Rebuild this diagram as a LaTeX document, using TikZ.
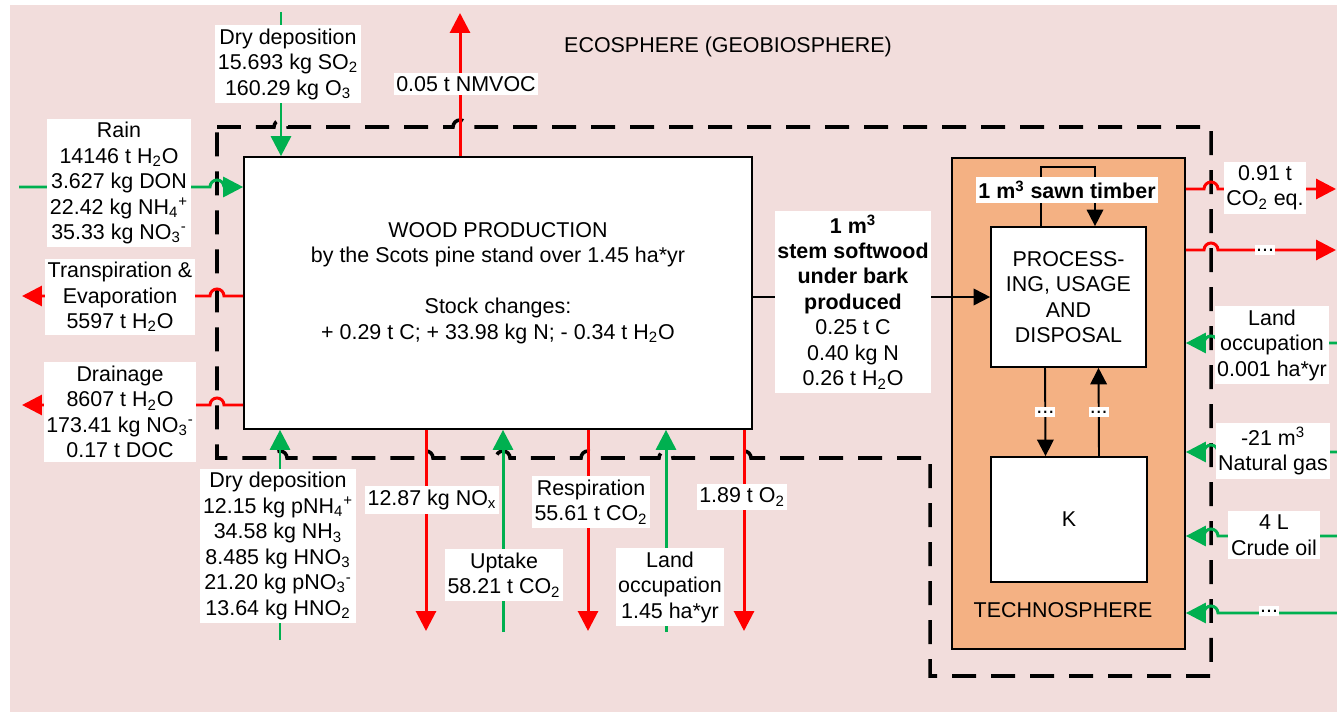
\documentclass[tikz,border=0pt]{standalone}
\usepackage{fontspec}
\setmainfont{Liberation Sans}
\usepackage{tikz}
\usetikzlibrary{arrows.meta,positioning,calc}
\definecolor{ecopink}     {RGB}{242, 221, 220}
\definecolor{technoorange}{RGB}{244, 177, 131}
\definecolor{flowred}     {RGB}{255,   0,   0}
\definecolor{flowgreen}   {RGB}{  0, 176,  80}
% sub- and superscript of an ion (NH4+, NO3-)
\newcommand{\ionss}[2]{\textsubscript{#1}\textsuperscript{#2}}

\begin{document}
\begin{tikzpicture}[x=0.02cm,y=-0.02cm,
  every node/.style={font=\fontsize{12.2}{14.5}\selectfont},
  boxw/.style={draw=black,line width=1pt,fill=white,inner sep=0pt,align=center},
  lbl/.style={fill=white,inner xsep=1.5pt,inner ysep=2pt,align=center},
  redflow/.style={draw=flowred,line width=1.7pt,-{Triangle[length=4mm,width=4mm]}},
  greenflow/.style={draw=flowgreen,line width=1.7pt,-{Triangle[length=4mm,width=4mm]}},
  blkarr/.style={draw=black,line width=1.1pt,-{Triangle[length=3.3mm,width=3.3mm]}},
  bound/.style={draw=black,line width=2pt,dash pattern=on 0.48cm off 0.3cm},
]
\useasboundingbox (0,0) rectangle (1337,712);
\fill[ecopink] (10,5) rectangle (1337,712);

%% ── System boundary (with hops over the vertical flows) ─────────────────
\draw[bound] (217,127) -- (274,127) arc[start angle=180,end angle=0,radius=0.14cm]
  -- (453,127) arc[start angle=180,end angle=0,radius=0.14cm]
  -- (1211,127) -- (1211,676) -- (930,676) -- (930,458)
  -- (751,458) arc[start angle=0,end angle=180,radius=0.14cm]
  -- (673,458) arc[start angle=0,end angle=180,radius=0.14cm]
  -- (595,458) arc[start angle=0,end angle=180,radius=0.14cm]
  -- (510,458) arc[start angle=0,end angle=180,radius=0.14cm]
  -- (433,458) arc[start angle=0,end angle=180,radius=0.14cm]
  -- (287,458) arc[start angle=0,end angle=180,radius=0.14cm]
  -- (217,458) -- cycle;

\node (ecolbl) at (728,47) {ECOSPHERE (GEOBIOSPHERE)};

%% ── Boxes ───────────────────────────────────────────────────────────────
\node[boxw,minimum width=10.16cm,minimum height=5.44cm] (wood) at (498,293) {};
\node[align=center] (woodtxt) at (498,283)
  {WOOD PRODUCTION\\by the Scots pine stand over 1.45 ha*yr\\[14.5pt]
   Stock changes:\\+ 0.29 t C; + 33.98 kg N; - 0.34 t H\textsubscript{2}O};
\node[draw=black,line width=1pt,fill=technoorange,minimum width=4.66cm,
      minimum height=9.82cm] (techno) at (1068.5,403.5) {};
\node[boxw,minimum width=3.1cm,minimum height=2.8cm] (proc) at (1068.5,297)
  {PROCESS-\\ING, USAGE\\AND\\DISPOSAL};
\node[boxw,minimum width=3.12cm,minimum height=2.5cm] (kbox) at (1069,519.5) {K};
\node (technolbl) at (1063,610) {TECHNOSPHERE};

%% ── Flows at the top ────────────────────────────────────────────────────
\coordinate (drytopT) at (281,12);
\coordinate (nmvocT) at (460,13);
\draw[greenflow] (drytopT) -- (wood.north -| drytopT);
\draw[redflow] (wood.north -| nmvocT) -- (nmvocT);

%% ── Flows on the left ───────────────────────────────────────────────────
\coordinate (rainL) at (19,187);
\coordinate (transpL) at (22,296);
\coordinate (drainL) at (22,405);
\draw[greenflow] (rainL) -- (210,187) arc[start angle=180,end angle=0,radius=0.14cm]
  -- (wood.west |- rainL);
\draw[redflow] (wood.west |- transpL) -- (224,296)
  arc[start angle=0,end angle=180,radius=0.14cm] -- (transpL);
\draw[redflow] (wood.west |- drainL) -- (224,405)
  arc[start angle=0,end angle=180,radius=0.14cm] -- (drainL);

%% ── Flows at the bottom ─────────────────────────────────────────────────
\coordinate (drybotB) at (280,640);
\coordinate (noxB) at (426,631);
\coordinate (uptakeB) at (503,632);
\coordinate (respB) at (588,631);
\coordinate (landB) at (666,632);
\coordinate (otwoB) at (744,631);
\draw[greenflow] (drybotB) -- (wood.south -| drybotB);
\draw[redflow] (wood.south -| noxB) -- (noxB);
\draw[greenflow] (uptakeB) -- (wood.south -| uptakeB);
\draw[redflow] (wood.south -| respB) -- (respB);
\draw[greenflow] (landB) -- (wood.south -| landB);
\draw[redflow] (wood.south -| otwoB) -- (otwoB);

%% ── Flows on the right (technosphere) ───────────────────────────────────
\coordinate (co2R) at (1336,189);
\coordinate (dotsR) at (1336,250);
\coordinate (landR) at (1337,343);
\coordinate (gasR) at (1337,452);
\coordinate (oilR) at (1337,536);
\coordinate (moreR) at (1337,613);
\draw[redflow] (techno.east |- co2R) -- (1204,189)
  arc[start angle=180,end angle=0,radius=0.14cm] -- (co2R);
\draw[redflow] (techno.east |- dotsR) -- (1204,250)
  arc[start angle=180,end angle=0,radius=0.14cm] -- (dotsR);
\draw[greenflow] (landR) -- (1218,343) arc[start angle=0,end angle=180,radius=0.14cm]
  -- (techno.east |- landR);
\draw[greenflow] (gasR) -- (1218,452) arc[start angle=0,end angle=180,radius=0.14cm]
  -- (techno.east |- gasR);
\draw[greenflow] (oilR) -- (1218,536) arc[start angle=0,end angle=180,radius=0.14cm]
  -- (techno.east |- oilR);
\draw[greenflow] (moreR) -- (1218,613) arc[start angle=0,end angle=180,radius=0.14cm]
  -- (techno.east |- moreR);

%% ── Product flow and technosphere links ─────────────────────────────────
\draw[blkarr] (proc.west -| wood.east) -- (proc.west);
\draw[blkarr] ([xshift=-0.55cm]proc.north) -- ++(0,-59) -| ([xshift=0.53cm]proc.north);
\draw[blkarr] ([xshift=-0.47cm]proc.south) -- ([xshift=-0.47cm]kbox.north)
  node[lbl,midway,inner xsep=0.5pt] {...};
\draw[blkarr] ([xshift=0.6cm]kbox.north) -- ([xshift=0.6cm]proc.south)
  node[lbl,midway,inner xsep=0.5pt] {...};

%% ── Labels ──────────────────────────────────────────────────────────────
\node[lbl] (drytoplbl) at (288,64)
  {Dry deposition\\15.693 kg SO\textsubscript{2}\\160.29 kg O\textsubscript{3}};
\node[lbl] (nmvoclbl) at (466,84) {0.05 t NMVOC};
\node[lbl] (rainlbl) at (119,183)
  {Rain\\14146 t H\textsubscript{2}O\\3.627 kg DON\\22.42 kg NH\ionss{4}{+}\\
   35.33 kg NO\ionss{3}{-}};
\node[lbl] (transplbl) at (120,297)
  {Transpiration \&\\Evaporation\\5597 t H\textsubscript{2}O};
\node[lbl] (drainlbl) at (120,412)
  {Drainage\\8607 t H\textsubscript{2}O\\173.41 kg NO\ionss{3}{-}\\0.17 t DOC};
\node[lbl] (drybotlbl) at (278,546)
  {Dry deposition\\12.15 kg pNH\ionss{4}{+}\\34.58 kg NH\textsubscript{3}\\
   8.485 kg HNO\textsubscript{3}\\21.20 kg pNO\ionss{3}{-}\\13.64 kg HNO\textsubscript{2}};
\node[lbl] (noxlbl) at (432,500) {12.87 kg NO\textsubscript{x}};
\node[lbl] (uptakelbl) at (504,575) {Uptake\\58.21 t CO\textsubscript{2}};
\node[lbl] (resplbl) at (591,502) {Respiration\\55.61 t CO\textsubscript{2}};
\node[lbl] (landlbl) at (670,587) {Land\\occupation\\1.45 ha*yr};
\node[lbl] (otwolbl) at (742,497) {1.89 t O\textsubscript{2}};
\node[lbl] (stemlbl) at (853,302)
  {\textbf{1 m\textsuperscript{3}}\\\textbf{stem softwood}\\\textbf{under bark}\\
   \textbf{produced}\\0.25 t C\\0.40 kg N\\0.26 t H\textsubscript{2}O};
\node[lbl,font=\fontsize{12.2}{14.5}\selectfont\bfseries] (sawnlbl) at (1067,190)
  {1 m\textsuperscript{3} sawn timber};
\node[lbl] (co2lbl) at (1265,188) {0.91 t\\CO\textsubscript{2} eq.};
\node[lbl,inner xsep=0.5pt] (dotsRlbl) at (1265,250) {...};
\node[lbl] (landRlbl) at (1272,345) {Land\\occupation\\0.001 ha*yr};
\node[lbl] (gaslbl) at (1273,451) {-21 m\textsuperscript{3}\\Natural gas};
\node[lbl] (oillbl) at (1274,535) {4 L\\Crude oil};
\node[lbl,inner xsep=0.5pt] (morelbl) at (1269,611) {...};

\end{tikzpicture}
\end{document}
